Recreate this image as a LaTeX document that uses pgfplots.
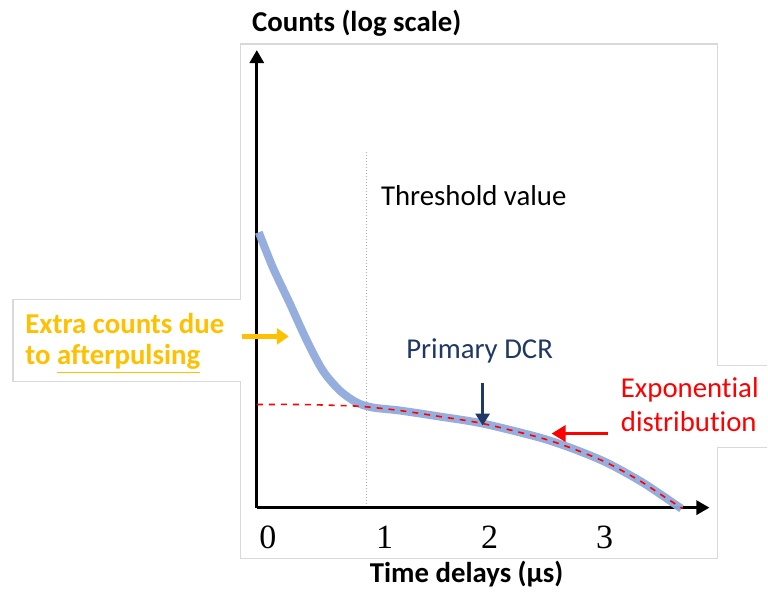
\documentclass[border=0pt]{standalone}
\usepackage{pgfplots}
\pgfplotsset{compat=1.18}
\usepackage{fontspec}
\setmainfont{Carlito}[Ligatures=NoCommon]
\newfontfamily\tickserif{Liberation Serif}
\usetikzlibrary{arrows.meta}
\definecolor{curveblue}{RGB}{143,170,220}
\definecolor{apyellow}{RGB}{255,192,0}
\definecolor{dcrnavy}{RGB}{32,56,100}
\definecolor{framegray}{RGB}{217,217,217}
\definecolor{threshgray}{RGB}{160,172,190}

\begin{document}
\begin{tikzpicture}
% coordinates are pixels of the reference, x to the right, y measured from the bottom
\begin{axis}[
    scale only axis,
    width=226.5pt, height=228.5pt,
    xmin=257, xmax=710, ymin=86, ymax=543,
    axis lines=left,
    axis line style={line width=1.5pt, -{Triangle[length=6.5pt,width=7pt]}},
    xtick={268,385,490,605},
    xticklabels={0,1,2,3},
    ytick=\empty,
    major tick length=0pt,
    xticklabel style={anchor=center, yshift=-15pt, font=\tickserif\fontsize{17}{20}\selectfont},
    /pgf/number format/assume math mode=true,
    clip=false,
]
% picture extent
\path (axis cs:0,0) rectangle (axis cs:768,593);

% frames of the pasted pieces
\draw[framegray, line width=0.6pt] (axis cs:241,294) -- (axis cs:241,549) -- (axis cs:718,549) -- (axis cs:718,228) -- (axis cs:768,228);
\draw[framegray, line width=0.6pt] (axis cs:768,146) -- (axis cs:718,146) -- (axis cs:718,35) -- (axis cs:241,35) -- (axis cs:241,212);
\draw[framegray, line width=0.6pt] (axis cs:241,294) -- (axis cs:13,294) -- (axis cs:13,212) -- (axis cs:241,212);

% threshold
\draw[threshgray, dash pattern=on 0.6pt off 0.9pt, line width=0.6pt] (axis cs:367,441) -- (axis cs:367,88);

% measured distribution
\addplot[curveblue, line width=4pt, smooth, opacity=0.95] coordinates {
  (259,361) (273,326) (290,290) (307,253) (323,223) (340,203) (357,191)
  (373,186) (400,183) (440,177) (483,170) (540,156) (573,145) (607,131)
  (640,113) (660,100) (682,85)
};
% exponential fit
\addplot[red, line width=0.8pt, dashed, smooth] coordinates {
  (257,189) (300,189) (340,188) (363,187) (400,183) (440,177) (483,170)
  (540,156) (573,145) (607,131) (640,113) (660,100) (683,85)
};

% arrows
\draw[apyellow, line width=2.5pt, -{Triangle[length=6pt,width=8pt]}] (axis cs:242,257) -- (axis cs:289,257);
\draw[red, line width=1.8pt, -{Triangle[length=7pt,width=8pt]}] (axis cs:608,160) -- (axis cs:552,160);
\draw[dcrnavy, line width=1.5pt, -{Triangle[length=6pt,width=7pt]}] (axis cs:483,210) -- (axis cs:483,168);

% texts
\node[anchor=base, inner sep=0pt, font=\bfseries\fontsize{14.4}{17}\selectfont] at (axis cs:357,562) {Counts (log scale)};
\node[anchor=base, inner sep=0pt, font=\bfseries\fontsize{14.4}{17}\selectfont] at (axis cs:467,11) {Time delays (μs)};
\node[anchor=base west, inner sep=0pt, font=\fontsize{14.4}{17}\selectfont] at (axis cs:381,388) {Threshold value};
\node[anchor=base, inner sep=0pt, dcrnavy, font=\fontsize{14.4}{17}\selectfont] at (axis cs:480,235) {Primary DCR};
\node[anchor=base west, inner sep=0pt, red, font=\fontsize{14.4}{17}\selectfont] at (axis cs:621,196) {Exponential};
\node[anchor=base west, inner sep=0pt, red, font=\fontsize{14.4}{17}\selectfont] at (axis cs:621,162) {distribution};
\node[anchor=base west, inner sep=0pt, apyellow, font=\bfseries\fontsize{14.4}{17}\selectfont] at (axis cs:25,260) {Extra counts due};
\node[anchor=base west, inner sep=0pt, apyellow, font=\bfseries\fontsize{14.4}{17}\selectfont] at (axis cs:25,229) {to \underline{afterpulsing}};
\end{axis}
\end{tikzpicture}
\end{document}
